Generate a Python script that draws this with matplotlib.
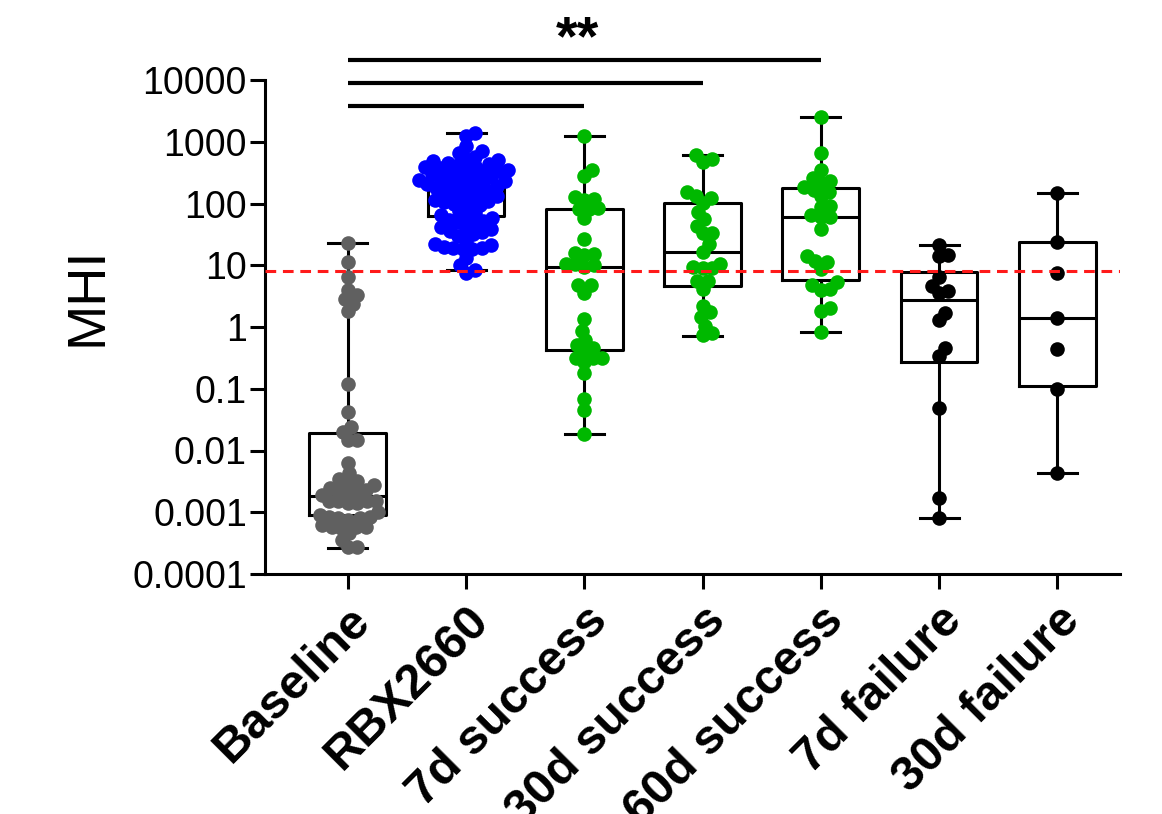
import numpy as np
import matplotlib
matplotlib.use("Agg")
import matplotlib.pyplot as plt
from matplotlib.transforms import blended_transform_factory

plt.rcParams['font.family'] = ['Liberation Sans', 'DejaVu Sans']

# ---------------- data ----------------
categories = ["Baseline", "RBX2660", "7d success", "30d success",
              "60d success", "7d failure", "30d failure"]

baseline = [23, 11.4, 6.4, 4.0, 3.3, 2.8, 2.4, 1.8, 0.12, 0.042,
            0.024, 0.020, 0.0148, 0.0148, 0.0063, 0.0044,
            0.0032, 0.0035, 0.0031, 0.0028, 0.0025,
            0.0021, 0.0019, 0.0021, 0.0023, 0.0022, 0.0015, 0.0014,
            0.0015, 0.0014, 0.0015, 0.0015,
            0.00085, 0.00075, 0.0009, 0.0010, 0.00085, 0.0008, 0.0008,
            0.00058, 0.00055, 0.00058, 0.00062, 0.00058,
            0.00046, 0.00036, 0.00027, 0.00027]

rbx2660 = [1400, 1240, 850, 665, 720, 570,
           530, 500, 480, 460, 440, 420, 400, 390, 370, 360, 350, 340, 330, 320,
           300, 290, 280, 270, 260, 250, 240, 230, 225, 215, 205, 200, 195, 190,
           180, 170, 160, 150, 145, 140, 130, 125, 120, 115, 110, 105, 100, 95, 90,
           75, 70, 65, 60, 58, 55, 52, 50, 48,
           42, 40, 38, 36, 34, 32, 30,
           25, 22, 21, 20, 19, 19, 18, 18,
           13, 10, 8.4, 7.6]

success_7d = [1250, 279, 349, 118, 114, 129, 80, 80, 86, 59, 27,
              15.6, 14.7, 15, 10.5, 9.5, 10, 10.5, 4.7, 4.7, 3.6,
              1.33, 0.87, 0.62, 0.51, 0.45, 0.41, 0.31, 0.31, 0.27, 0.31,
              0.18, 0.067, 0.046, 0.0185]

success_30d = [610, 475, 520, 155, 121, 132, 103, 74, 56, 44, 33, 33,
               21.8, 16.6, 10.5, 8.9, 8.9, 9.5, 5.6, 4.2, 5.6,
               2.2, 1.73, 1.44, 1.04, 0.74, 0.79]

success_60d = [2480, 665, 349, 256, 234, 212, 155, 166, 183, 132,
               91, 89, 61, 61, 64, 39, 14.1, 11.4, 11.6, 8.7,
               4.7, 4.0, 4.2, 5.4, 2.0, 1.8, 0.82]

failure_7d = [21.3, 14.7, 14.1, 6.5, 4.6, 3.8, 3.6, 1.7, 1.3,
              0.45, 0.34, 0.048, 0.0017, 0.0008]

failure_30d = [148, 24, 7.6, 1.38, 0.44, 0.10, 0.0044]

# box statistics (whisker low, Q1, median, Q3, whisker high)
box_low = [0.00026, 8.4, 0.0185, 0.71, 0.82, 0.0008, 0.0044]
box_q1 = [0.0009, 63, 0.42, 4.6, 5.8, 0.27, 0.11]
box_med = [0.0018, 185, 9.5, 16.2, 61, 2.7, 1.38]
box_q3 = [0.019, 362, 80.5, 103, 176, 7.9, 24]
box_high = [23, 1400, 1250, 610, 2480, 21.3, 148]

threshold = 8.2
yticks = [0.0001, 0.001, 0.01, 0.1, 1, 10, 100, 1000, 10000]
ytick_labels = ["0.0001", "0.001", "0.01", "0.1", "1", "10", "100", "1000", "10000"]
sig_ends = [2, 3, 4]
sig_label = "**"

groups = [baseline, rbx2660, success_7d, success_30d, success_60d,
          failure_7d, failure_30d]
colors = ["#606060", "#0000FF", "#00B800", "#00B800", "#00B800",
          "#000000", "#000000"]

# ---------------- figure ----------------
W, H = 1162, 814
fig = plt.figure(figsize=(W / 100, H / 100), dpi=100)
ax = fig.add_axes([265 / W, 1 - 574 / H, (1120 - 265) / W, (574 - 80) / H])
ax.set_yscale("log")
ax.set_ylim(1e-4, 1e4)
ax.set_xlim(-0.70, 6.53)

pos = np.arange(len(categories))

stats = []
for i in range(len(categories)):
    stats.append(dict(whislo=box_low[i], q1=box_q1[i], med=box_med[i],
                      q3=box_q3[i], whishi=box_high[i], fliers=[]))
lw = 2.2
ax.bxp(stats, positions=pos, widths=0.65, capwidths=0.33, showfliers=False,
       patch_artist=False,
       boxprops=dict(color="black", linewidth=lw),
       medianprops=dict(color="black", linewidth=lw),
       whiskerprops=dict(color="black", linewidth=lw),
       capprops=dict(color="black", linewidth=lw), zorder=2)


def swarm_offsets(xc, vals, d):
    pts = ax.transData.transform(np.column_stack([np.full(len(vals), xc), vals]))
    ypix = pts[:, 1]
    order = np.argsort(ypix)
    placed = []
    xs = np.zeros(len(vals))
    for i in order:
        y = ypix[i]
        cands = [0.0]
        for (px, py) in placed:
            dy = y - py
            if abs(dy) < d:
                dx = np.sqrt(d * d - dy * dy)
                cands += [px + dx, px - dx]
        cands = sorted(cands, key=abs)
        chosen = cands[-1]
        for c in cands:
            if all((c - px) ** 2 + (y - py) ** 2 >= d * d - 1e-6 for px, py in placed):
                chosen = c
                break
        xs[i] = chosen
        placed.append((chosen, y))
    x0 = ax.transData.transform((0, 1))[0]
    x1 = ax.transData.transform((1, 1))[0]
    return xs / (x1 - x0)


ms = 10.5  # marker diameter in points
dpx = ms / 72 * 100
for i, vals in enumerate(groups):
    off = swarm_offsets(pos[i], vals, dpx * 0.65)
    ax.scatter(pos[i] + off, vals, s=ms ** 2, color=colors[i], linewidths=0,
               zorder=3, clip_on=False)

ax.axhline(threshold, color="#FF1A1A", linestyle=(0, (3.5, 2.2)),
           linewidth=2.2, zorder=4)

# axes styling
for s in ["top", "right"]:
    ax.spines[s].set_visible(False)
for s in ["left", "bottom"]:
    ax.spines[s].set_linewidth(2.2)
ax.set_yticks(yticks)
ax.set_yticklabels(ytick_labels)
ax.yaxis.set_minor_locator(matplotlib.ticker.NullLocator())
ax.tick_params(axis="y", which="major", length=11, width=2.2, labelsize=27, pad=2)
ax.set_xticks(pos)
ax.set_xticklabels(categories, rotation=45, ha="right", va="top",
                   rotation_mode="anchor", fontsize=35, fontweight="bold")
ax.tick_params(axis="x", which="major", length=11, width=2.2, pad=6)

fig.text(87 / W, 1 - 296 / H, "MHI", rotation=90, ha="center", va="center",
         fontsize=39)

# significance bars
bar_y = [3790, 8930, 21100]
for xe, yy in zip(sig_ends, bar_y):
    ax.plot([pos[0], xe], [yy, yy], color="black", linewidth=3,
            solid_capstyle="butt", clip_on=False)
trans = blended_transform_factory(ax.transData, ax.transAxes)
ax.text(1.94, (574 - 54) / 494, sig_label, transform=trans, ha="center",
        va="baseline", fontsize=40, fontweight="bold")

fig.savefig("out.png", dpi=100)
